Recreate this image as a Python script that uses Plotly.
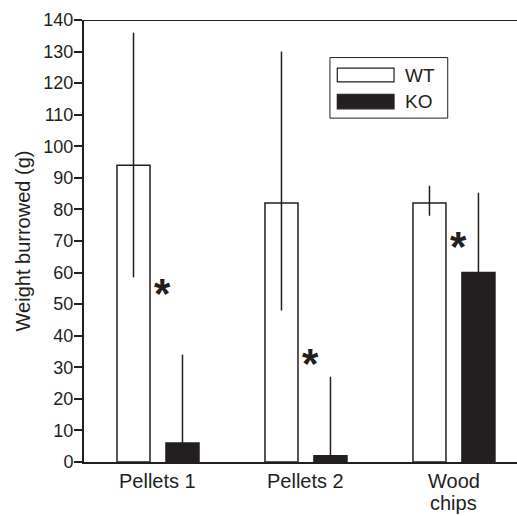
import plotly.graph_objects as go

categories = ["Pellets 1", "Pellets 2", "Wood chips"]
category_label_lines = [["Pellets 1"], ["Pellets 2"], ["Wood", "chips"]]
wt_values = [94, 82, 82]
wt_err_plus = [42, 48, 5.5]
wt_err_minus = [35.5, 34, 4]
ko_values = [6, 2, 60]
ko_err_plus = [28, 25, 25.3]
ko_err_minus = [6, 2, 25]
star_y = [55.7, 33.4, 70.6]
y_ticks = list(range(0, 141, 10))

INK = "#231f20"
FONT = "Liberation Sans, Arial, Helvetica, sans-serif"

fig = go.Figure()
fig.add_trace(go.Bar(
    x=categories, y=wt_values, name="WT",
    marker=dict(color="white", line=dict(color=INK, width=1.5)),
    error_y=dict(type="data", symmetric=False, array=wt_err_plus, arrayminus=wt_err_minus,
                 color=INK, thickness=1.5, width=0),
    showlegend=False,
))
fig.add_trace(go.Bar(
    x=categories, y=ko_values, name="KO",
    marker=dict(color=INK, line=dict(color=INK, width=1.5)),
    error_y=dict(type="data", symmetric=False, array=ko_err_plus, arrayminus=ko_err_minus,
                 color=INK, thickness=1.5, width=0),
    showlegend=False,
))

# category labels (tight line spacing as in the reference)
line_y = [-0.042, -0.0935]
for c, lines in zip(categories, category_label_lines):
    for i, t in enumerate(lines):
        fig.add_annotation(x=c, y=line_y[i], xref="x", yref="paper", text=t, showarrow=False,
                           xanchor="center", yanchor="middle", borderpad=0,
                           font=dict(size=20, color=INK, family=FONT))

# significance asterisks
for c, yv in zip(categories, star_y):
    fig.add_annotation(x=c, y=yv, xref="x", yref="y", text="<b>*</b>", showarrow=False,
                       xshift=5, yshift=-7, font=dict(size=42, color=INK, family=FONT))

# top frame line
fig.add_shape(type="line", xref="paper", yref="y", x0=0, x1=1, y0=140, y1=140,
              line=dict(color=INK, width=2))

# manual legend
fig.add_shape(type="rect", xref="paper", yref="paper", x0=0.568, x1=0.840, y0=0.778, y1=0.915,
              line=dict(color=INK, width=1), fillcolor="white")
fig.add_shape(type="rect", xref="paper", yref="paper", x0=0.585, x1=0.716, y0=0.860, y1=0.891,
              line=dict(color=INK, width=1.2), fillcolor="white")
fig.add_shape(type="rect", xref="paper", yref="paper", x0=0.585, x1=0.716, y0=0.799, y1=0.832,
              line=dict(color=INK, width=1.2), fillcolor=INK)
fig.add_annotation(x=0.736, y=0.875, xref="paper", yref="paper", text="WT", showarrow=False,
                   xanchor="left", yanchor="middle", font=dict(size=19, color=INK, family=FONT))
fig.add_annotation(x=0.736, y=0.815, xref="paper", yref="paper", text="KO", showarrow=False,
                   xanchor="left", yanchor="middle", font=dict(size=19, color=INK, family=FONT))

fig.update_layout(
    width=517, height=516,
    margin=dict(l=84, r=0, t=20, b=54, autoexpand=False),
    paper_bgcolor="white", plot_bgcolor="white",
    barmode="group", bargap=0.338, bargroupgap=0.326,
    font=dict(family=FONT, color=INK),
)
fig.update_xaxes(type="category", range=[-0.5, 2.426], showline=True, linecolor=INK, linewidth=2,
                 ticks="", showgrid=False, zeroline=False, showticklabels=False, automargin=False)
fig.update_yaxes(range=[0, 140], tickvals=y_ticks, showline=True, linecolor=INK, linewidth=2,
                 ticks="outside", ticklen=8, tickwidth=2, tickcolor=INK,
                 showgrid=False, zeroline=False, automargin=False, ticklabelstandoff=-3,
                 tickfont=dict(size=18, color=INK, family=FONT),
                 title=dict(text="Weight burrowed (g)", font=dict(size=20, color=INK, family=FONT),
                            standoff=7))

fig.write_html("out.html")
